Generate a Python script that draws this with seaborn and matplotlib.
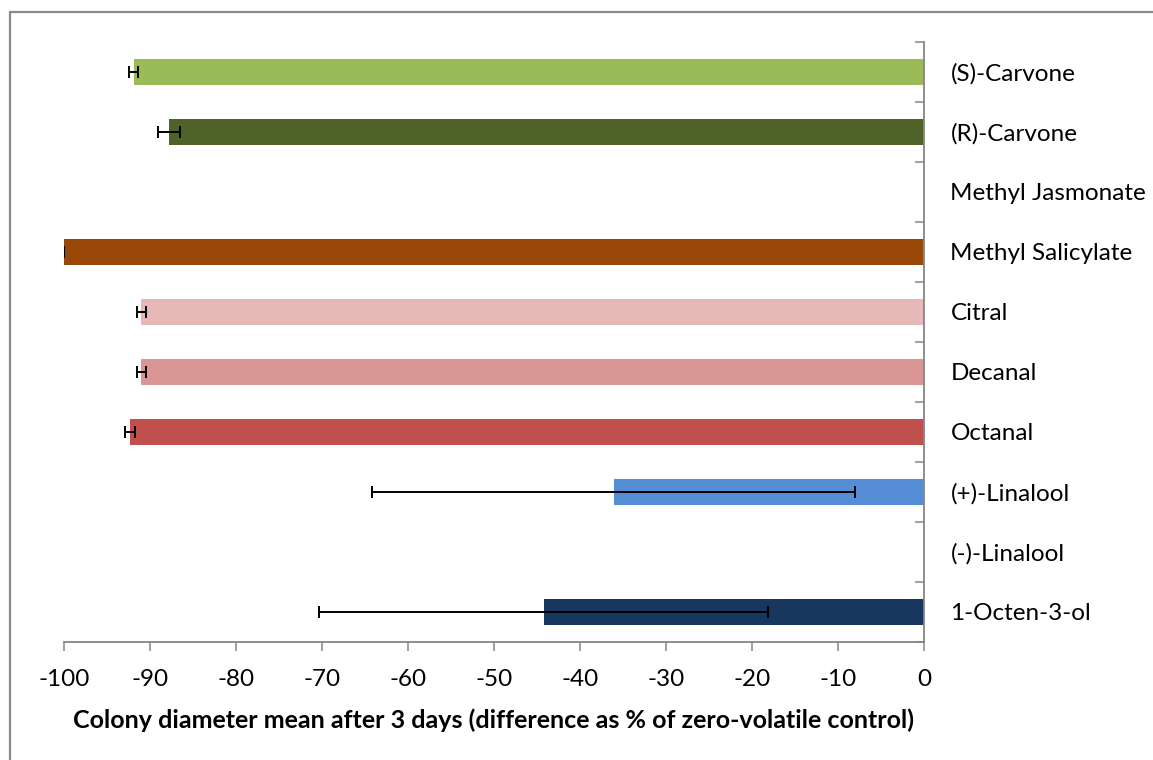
import matplotlib
matplotlib.use("Agg")
import matplotlib.pyplot as plt
import seaborn as sns
import pandas as pd
from matplotlib.lines import Line2D
from matplotlib.ticker import FixedLocator

categories = ["(S)-Carvone", "(R)-Carvone", "Methyl Jasmonate", "Methyl Salicylate",
              "Citral", "Decanal", "Octanal", "(+)-Linalool", "(-)-Linalool", "1-Octen-3-ol"]
values = [-91.9, -87.8, 0.0, -100.0, -91.0, -91.0, -92.3, -36.1, 0.0, -44.2]
errors = [0.5, 1.25, 0.0, 0.0, 0.5, 0.5, 0.55, 28.1, 0.0, 26.1]
colors = ["#9BBB59", "#4F6228", "#FFFFFF", "#984807", "#E6B9B8",
          "#D99694", "#C0504D", "#558ED5", "#FFFFFF", "#17375E"]
x_ticks = [-100, -90, -80, -70, -60, -50, -40, -30, -20, -10, 0]
x_label = "Colony diameter mean after 3 days (difference as % of zero-volatile control)"

sns.set_theme(style="white")
plt.rcParams["font.family"] = ["Lato", "DejaVu Sans"]

df = pd.DataFrame({"compound": categories, "value": values})

fig = plt.figure(figsize=(11.53, 7.60), dpi=100)
ax = fig.add_axes([64 / 1153, 118 / 760, 860 / 1153, 600 / 760])

sns.barplot(data=df, y="compound", x="value", hue="compound", order=categories,
            palette=dict(zip(categories, colors)), orient="h", width=0.42,
            errorbar=None, legend=False, ax=ax, saturation=1, linewidth=0)

# error bars at bar centres
for i, (v, e) in enumerate(zip(values, errors)):
    if v != 0:
        ax.errorbar(v, i, xerr=e, fmt="none", ecolor="black", elinewidth=1.4,
                    capsize=4.3, capthick=1.4, zorder=5)

ax.set_xlim(-100, 0)
ax.set_ylim(len(categories) - 0.5, -0.5)

gray = "#868686"
for s in ["top", "left"]:
    ax.spines[s].set_visible(False)
for s in ["right", "bottom"]:
    ax.spines[s].set_visible(True)
    ax.spines[s].set_color(gray)
    ax.spines[s].set_linewidth(1.3)

ax.yaxis.tick_right()
ax.yaxis.set_label_position("right")
ax.set_yticks(range(len(categories)))
ax.set_yticklabels(categories)
ax.yaxis.set_minor_locator(FixedLocator([i - 0.5 for i in range(len(categories) + 1)]))
ax.tick_params(axis="y", which="major", length=0, pad=19, labelsize=17.5, labelcolor="black")
ax.tick_params(axis="y", which="minor", right=True, left=False, direction="in",
               length=6.5, width=1.1, color=gray)

ax.set_xticks(x_ticks)
ax.set_xticklabels([str(t) for t in x_ticks])
ax.tick_params(axis="x", which="major", bottom=True, direction="out", length=6.5,
               width=1.1, color=gray, pad=13, labelsize=17.5, labelcolor="black")

ax.set_ylabel("")
ax.set_xlabel(x_label, fontsize=18, fontweight="bold", labelpad=13, color="black")

# outer chart frame (left and top edges)
fig.add_artist(Line2D([10.5 / 1153, 10.5 / 1153], [0, 748 / 760], transform=fig.transFigure,
                      color="#8A8A8A", linewidth=1.6))
fig.add_artist(Line2D([10.5 / 1153, 1.0], [748 / 760, 748 / 760], transform=fig.transFigure,
                      color="#8A8A8A", linewidth=1.6))

fig.savefig("out.png", dpi=100)
